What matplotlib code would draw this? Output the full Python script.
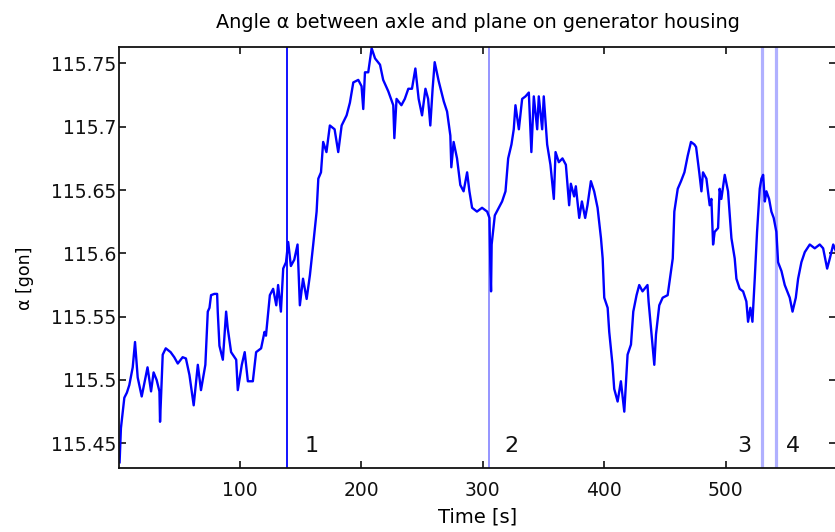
import matplotlib
matplotlib.use('Agg')
import matplotlib.pyplot as plt

# time [s] and angle alpha [gon]
t = [1, 2.1, 4.9, 7, 9, 11.8, 13.7, 15.9, 19.2, 22.8, 24, 26.9, 29, 31.5, 33.8,
     34.3, 36.5, 39, 43, 46, 48.9, 52.9, 55.6, 58.5, 62, 65.4, 68, 71.6, 73.6,
     75, 76.3, 79, 81.3, 81.8, 83.2, 86, 88.7, 90, 92.8, 97, 98.3, 101.6, 104,
     106.6, 110.7, 113.4, 117.5, 120.3, 121.5, 124.7, 127.4, 130, 131.5, 133.8,
     135.7, 138, 139.8, 142, 144.8, 147.5, 149.4, 152, 155, 157.7, 160.4, 163.2,
     164.6, 166.8, 168.6, 171.3, 174.1, 178, 181, 183.8, 187.9, 190.6, 193.4,
     197.5, 200.2, 201.6, 203, 205.7, 208.5, 211.3, 215.4, 218, 222.2, 226.3,
     227.2, 229, 233, 235.8, 238.7, 241.7, 244.5, 247.2, 250, 252.8, 255, 256.8,
     258.7, 260.4, 263.7, 267.9, 270.6, 273.3, 274.1, 276, 278.8, 281.5, 284.2,
     287.1, 289, 291.2, 295.2, 299.4, 303.6, 305.5, 306.3, 306.8, 307.3, 309.9,
     313.2, 315.9, 318.7, 320.9, 323.6, 325.5, 326.9, 329.7, 332.4, 335.2, 337.9,
     340, 342, 344.8, 346.1, 348.9, 350.2, 353, 355.7, 358.5, 359.9, 362.6,
     365.6, 368.4, 371.1, 372.5, 375.2, 376.6, 379.4, 381.6, 384.3, 386.2, 389,
     391.7, 394.5, 397.3, 398.7, 400, 402.8, 404.1, 406.8, 408.2, 411, 413.7,
     416.5, 419.2, 422, 423.9, 426.6, 428.8, 431.5, 435.6, 436.5, 438.5, 441.2,
     442.6, 445.3, 448.1, 452.2, 455, 456.4, 457.7, 460.5, 463.2, 466, 468.7,
     471.4, 474.2, 475.6, 478.2, 480, 481.3, 484.1, 486.8, 488.2, 489.6, 490.9,
     493.7, 495, 496.4, 499.2, 501.9, 504.7, 507.4, 508.8, 511.5, 514.3, 517,
     518.4, 520.3, 522, 523.9, 525.8, 528, 529.4, 530.8, 532.2, 533.5, 535.7,
     537.6, 539.5, 541.7, 543.1, 545.9, 548.6, 552.7, 555, 557.7, 559.6, 562.3,
     565.1, 569.2, 573.3, 577.4, 580.2, 583.5, 585.7, 588.5, 591]
alpha = [115.435, 115.462, 115.486, 115.490, 115.496, 115.510, 115.530, 115.502,
         115.487, 115.504, 115.510, 115.491, 115.506, 115.500, 115.491, 115.467,
         115.520, 115.525, 115.522, 115.518, 115.513, 115.518, 115.517, 115.504,
         115.480, 115.512, 115.492, 115.512, 115.554, 115.557, 115.567, 115.568,
         115.568, 115.554, 115.527, 115.516, 115.554, 115.541, 115.522, 115.516,
         115.492, 115.512, 115.522, 115.499, 115.499, 115.522, 115.525, 115.538,
         115.535, 115.567, 115.572, 115.559, 115.575, 115.554, 115.588, 115.593,
         115.609, 115.590, 115.595, 115.607, 115.559, 115.580, 115.564, 115.583,
         115.607, 115.633, 115.659, 115.664, 115.688, 115.680, 115.701, 115.698,
         115.680, 115.701, 115.709, 115.719, 115.735, 115.737, 115.732, 115.714,
         115.743, 115.743, 115.762, 115.754, 115.749, 115.737, 115.728, 115.717,
         115.691, 115.722, 115.717, 115.722, 115.730, 115.730, 115.746, 115.722,
         115.709, 115.730, 115.722, 115.701, 115.730, 115.751, 115.736, 115.720,
         115.712, 115.693, 115.668, 115.688, 115.675, 115.654, 115.649, 115.664,
         115.649, 115.636, 115.633, 115.636, 115.633, 115.628, 115.586, 115.570,
         115.607, 115.630, 115.636, 115.641, 115.649, 115.675, 115.686, 115.698,
         115.717, 115.698, 115.722, 115.724, 115.727, 115.680, 115.724, 115.698,
         115.724, 115.698, 115.724, 115.686, 115.670, 115.643, 115.680, 115.672,
         115.675, 115.670, 115.638, 115.655, 115.645, 115.653, 115.628, 115.641,
         115.628, 115.638, 115.657, 115.649, 115.636, 115.612, 115.596, 115.565,
         115.557, 115.538, 115.512, 115.493, 115.483, 115.499, 115.475, 115.520,
         115.528, 115.554, 115.567, 115.575, 115.570, 115.575, 115.562, 115.541,
         115.512, 115.536, 115.559, 115.565, 115.567, 115.586, 115.596, 115.633,
         115.651, 115.657, 115.664, 115.677, 115.688, 115.686, 115.684, 115.664,
         115.649, 115.664, 115.659, 115.638, 115.643, 115.607, 115.617, 115.620,
         115.651, 115.643, 115.662, 115.649, 115.612, 115.596, 115.580, 115.572,
         115.570, 115.562, 115.546, 115.557, 115.546, 115.580, 115.617, 115.651,
         115.659, 115.662, 115.641, 115.649, 115.643, 115.633, 115.628, 115.617,
         115.593, 115.586, 115.575, 115.565, 115.554, 115.565, 115.580, 115.593,
         115.601, 115.607, 115.604, 115.607, 115.604, 115.588, 115.596, 115.607,
         115.601]

# event markers
event_times = [139, 305.5, 530, 541]
event_labels = ['1', '2', '3', '4']
event_label_x = [159, 324, 515, 555]
event_colors = ['#0000ff', '#8c8cff', '#b0b0ff', '#b0b0ff']
event_widths = [1.3, 1.3, 2.3, 2.3]

xticks = [100, 200, 300, 400, 500]
yticks = [115.45, 115.5, 115.55, 115.6, 115.65, 115.7, 115.75]
ytick_labels = ['115.45', '115.5', '115.55', '115.6', '115.65', '115.7', '115.75']

fig = plt.figure(figsize=(8.35, 5.32), dpi=100)
ax = fig.add_axes([0.1425, 0.1203, 0.859, 0.7914])

for xe, c, w in zip(event_times, event_colors, event_widths):
    ax.axvline(xe, color=c, lw=w, zorder=1)
ax.plot(t, alpha, color='#0000ff', lw=1.7, zorder=2)

for xl, lab in zip(event_label_x, event_labels):
    ax.text(xl, 115.448, lab, fontsize=16, ha='center', va='center', color='#111111')

ax.set_xlim(0.5, 591)
ax.set_ylim(115.4305, 115.763)
ax.set_xticks(xticks)
ax.set_yticks(yticks)
ax.set_yticklabels(ytick_labels)
ax.tick_params(direction='in', top=True, right=True, length=5, width=1.2,
               labelsize=13.5, colors='#111111')
ax.tick_params(axis='x', pad=9)
ax.tick_params(axis='y', pad=2)
for s in ax.spines.values():
    s.set_linewidth(1.3)
    s.set_color('#111111')

ax.set_title('Angle α between axle and plane on generator housing', fontsize=13.9, pad=14)
ax.set_xlabel('Time [s]', fontsize=14, labelpad=6)
ax.set_ylabel('α [gon]', fontsize=12.5)
ax.yaxis.set_label_coords(-0.118, 0.45)

fig.savefig('out.png', dpi=100)
